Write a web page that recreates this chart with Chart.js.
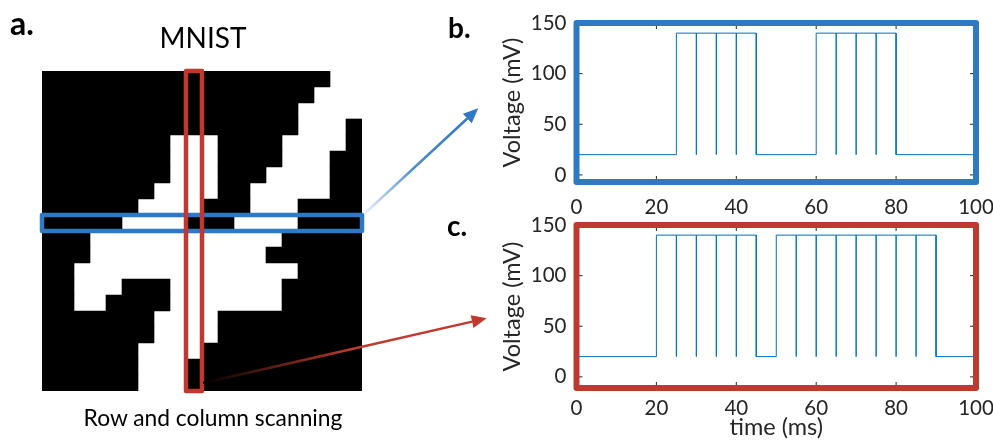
<!DOCTYPE html>
<html>
<head>
<meta charset="utf-8">
<script src="https://cdn.jsdelivr.net/npm/chart.js@4.4.1/dist/chart.umd.min.js"></script>
<style>
    html, body { margin: 0; padding: 0; background: #fff; }
    body { width: 993px; height: 442px; position: relative; overflow: hidden; font-family: Lato, sans-serif; }
    .panel { position: absolute; }
    .label { position: absolute; line-height: 1; color: #000; white-space: nowrap; }
    svg { position: absolute; left: 0; top: 0; pointer-events: none; }
</style>
</head>
<body>
<div class="panel" style="left:0;top:0;width:440px;height:442px"><canvas id="mnist"></canvas></div>
<div class="panel" style="left:440px;top:0;width:553px;height:225px"><canvas id="rowChart"></canvas></div>
<div class="panel" style="left:440px;top:200px;width:553px;height:242px"><canvas id="colChart"></canvas></div>

<svg width="993" height="442">
    <defs>
        <linearGradient id="gBlue" gradientUnits="userSpaceOnUse" x1="361" y1="217" x2="468" y2="118">
            <stop offset="0" stop-color="#2f78c2" stop-opacity="0.05"/>
            <stop offset="0.5" stop-color="#2f78c2" stop-opacity="0.85"/>
            <stop offset="1" stop-color="#2f78c2"/>
        </linearGradient>
        <linearGradient id="gRed" gradientUnits="userSpaceOnUse" x1="203" y1="383" x2="472" y2="322">
            <stop offset="0" stop-color="#000"/>
            <stop offset="0.55" stop-color="#c0392e"/>
            <stop offset="1" stop-color="#c0392e"/>
        </linearGradient>
    </defs>
    <line x1="361" y1="217" x2="467.3" y2="118.5" stroke="url(#gBlue)" stroke-width="2.5"/>
    <polygon points="478.3,108.3 471.7,123.3 462.9,113.7" fill="#2f78c2"/>
    <line x1="203" y1="383" x2="472.1" y2="321.6" stroke="url(#gRed)" stroke-width="2.5"/>
    <polygon points="486.7,318.3 473.5,327.9 470.7,315.3" fill="#c0392e"/>
</svg>

<div class="label" style="left:10px;top:7px;font-size:32px;font-weight:bold">a.</div>
<div class="label" style="left:103px;top:23px;width:200px;text-align:center;font-size:28px">MNIST</div>
<div class="label" style="left:63px;top:406px;width:300px;text-align:center;font-size:22.8px">Row and column scanning</div>
<div class="label" style="left:448px;top:13px;font-size:28px;font-weight:bold">b.</div>
<div class="label" style="left:447px;top:211px;font-size:28px;font-weight:bold">c.</div>

<script>
// MNIST digit, 20x20 binarised crop (1 = white pixel)
const mnistRows = [
    '00000000000000000011',
    '00000000000000000111',
    '00000000000000001111',
    '00000000000000001110',
    '00000000111000011110',
    '00000000111000011100',
    '00000000111000111100',
    '00000001111001111100',
    '00000011110001110000',
    '00000111100011110000',
    '00011111111111100000',
    '00011111111111000000',
    '00111111111111110000',
    '00111000111111100000',
    '00110000111111100000',
    '00000001111000000000',
    '00000001111000000000',
    '00000011110000000000',
    '00000011100000000000',
    '00000011100000000000',
];
const scanRow = 9;
const scanCol = 9;

// b. row scan spike train
const rowTime = [0, 25, 25, 30, 30, 30, 35, 35, 35, 40, 40, 40, 45, 45,
    60, 60, 65, 65, 65, 70, 70, 70, 75, 75, 75, 80, 80, 100];
const rowVoltage = [20, 20, 140, 140, 20, 140, 140, 20, 140, 140, 20, 140, 140, 20,
    20, 140, 140, 20, 140, 140, 20, 140, 140, 20, 140, 140, 20, 20];

// c. column scan spike train
const colTime = [0, 20, 20, 25, 25, 25, 30, 30, 30, 35, 35, 35, 40, 40, 40, 45, 45,
    50, 50, 55, 55, 55, 60, 60, 60, 65, 65, 65, 70, 70, 70, 75, 75, 75, 80, 80, 80, 85, 85, 85, 90, 90, 100];
const colVoltage = [20, 20, 140, 140, 20, 140, 140, 20, 140, 140, 20, 140, 140, 20, 140, 140, 20,
    20, 140, 140, 20, 140, 140, 20, 140, 140, 20, 140, 140, 20, 140, 140, 20, 140, 140, 20, 140, 140, 20, 140, 140, 20, 20];

const timeTicks = [0, 20, 40, 60, 80, 100];
const voltageTicks = [0, 50, 100, 150];

const BLUE = '#2f78c2';
const RED = '#c0392e';
const TEXT = '#262626';
const tickFont = {family: 'Lato', size: 20.5};
const titleFont = {family: 'Lato', size: 23.5};

// black pixel runs per row -> floating bars
const runs = mnistRows.map(row => {
    const out = [];
    let start = null;
    for (let c = 0; c <= row.length; c++) {
        const black = c < row.length && row[c] === '0';
        if (black && start === null) start = c;
        if (!black && start !== null) {
            out.push([start, c]);
            start = null;
        }
    }
    return out;
});
const maxRuns = Math.max(...runs.map(r => r.length));
const mnistDatasets = [];
for (let k = 0; k < maxRuns; k++) {
    mnistDatasets.push({
        data: runs.map(r => r[k] || null),
        backgroundColor: '#000',
        borderWidth: 0,
        barPercentage: 1,
        categoryPercentage: 1,
        grouped: false,
    });
}

const scanBoxes = {
    id: 'scanBoxes',
    afterDatasetsDraw(chart) {
        const {ctx, chartArea, scales: {x, y}} = chart;
        const band = (chartArea.bottom - chartArea.top) / mnistRows.length;
        const rowTop = y.getPixelForValue(scanRow) - band / 2;
        ctx.save();
        ctx.lineJoin = 'round';
        ctx.lineWidth = 4.5;
        ctx.strokeStyle = BLUE;
        ctx.strokeRect(chartArea.left, rowTop, chartArea.right - chartArea.left, band);
        ctx.strokeStyle = RED;
        const colLeft = x.getPixelForValue(scanCol);
        const colRight = x.getPixelForValue(scanCol + 1);
        ctx.strokeRect(colLeft, chartArea.top, colRight - colLeft, chartArea.bottom - chartArea.top);
        ctx.restore();
    }
};

new Chart(document.getElementById('mnist'), {
    type: 'bar',
    data: {labels: mnistRows.map((r, i) => i), datasets: mnistDatasets},
    options: {
        indexAxis: 'y',
        animation: false,
        responsive: true,
        maintainAspectRatio: false,
        layout: {padding: {left: 42, top: 71, right: 78, bottom: 51}},
        plugins: {legend: {display: false}, tooltip: {enabled: false}},
        scales: {
            x: {type: 'linear', min: 0, max: mnistRows[0].length, display: false},
            y: {display: false},
        }
    },
    plugins: [scanBoxes]
});

const frame = {
    id: 'frame',
    defaults: {color: '#000'},
    afterDatasetsDraw(chart, args, options) {
        const {ctx, chartArea: a, scales: {x, y}} = chart;
        ctx.save();
        ctx.strokeStyle = TEXT;
        ctx.lineWidth = 1;
        ctx.beginPath();
        timeTicks.forEach(v => {
            const px = x.getPixelForValue(v);
            ctx.moveTo(px, a.top); ctx.lineTo(px, a.top + 6);
            ctx.moveTo(px, a.bottom); ctx.lineTo(px, a.bottom - 6);
        });
        voltageTicks.forEach(v => {
            const py = y.getPixelForValue(v);
            ctx.moveTo(a.left, py); ctx.lineTo(a.left + 6, py);
            ctx.moveTo(a.right, py); ctx.lineTo(a.right - 6, py);
        });
        ctx.stroke();
        ctx.lineWidth = 6;
        ctx.lineJoin = 'round';
        ctx.strokeStyle = options.color;
        ctx.strokeRect(a.left, a.top, a.right - a.left, a.bottom - a.top);
        ctx.restore();
    }
};

function voltageChart(canvasId, times, volts, cfg) {
    return new Chart(document.getElementById(canvasId), {
        type: 'line',
        data: {
            datasets: [{
                data: times.map((t, i) => ({x: t, y: volts[i]})),
                borderColor: '#0072BD',
                borderWidth: 1,
                pointRadius: 0,
                tension: 0,
                fill: false,
            }]
        },
        options: {
            animation: false,
            responsive: true,
            maintainAspectRatio: false,
            layout: {padding: {left: 58, right: 17, top: cfg.top, bottom: 0}},
            plugins: {legend: {display: false}, tooltip: {enabled: false}, frame: {color: cfg.color}},
            scales: {
                x: {
                    type: 'linear', min: 0, max: 100,
                    afterBuildTicks: s => { s.ticks = timeTicks.map(v => ({value: v})); },
                    afterFit: s => { s.height = cfg.xHeight; s.paddingLeft = 0; s.paddingRight = 0; },
                    grid: {display: false, drawTicks: false},
                    border: {display: false},
                    ticks: {padding: cfg.xPad, color: TEXT, font: tickFont, maxRotation: 0},
                    title: {display: cfg.xTitle, text: 'time (ms)', color: TEXT, font: titleFont, padding: 0},
                },
                y: {
                    min: cfg.yMin, max: 150,
                    afterBuildTicks: s => { s.ticks = voltageTicks.map(v => ({value: v})); },
                    afterFit: s => { s.width = 78.5; },
                    grid: {display: false, drawTicks: false},
                    border: {display: false},
                    ticks: {padding: 10, color: TEXT, font: tickFont},
                    title: {display: true, text: 'Voltage (mV)', color: TEXT, font: titleFont, padding: 0},
                }
            }
        },
        plugins: [frame]
    });
}

voltageChart('rowChart', rowTime, rowVoltage, {color: BLUE, top: 23, xHeight: 43, xPad: 13, yMin: -7, xTitle: false});
voltageChart('colChart', colTime, colVoltage, {color: RED, top: 25, xHeight: 54, xPad: 8, yMin: -11, xTitle: true});
</script>
</body>
</html>
